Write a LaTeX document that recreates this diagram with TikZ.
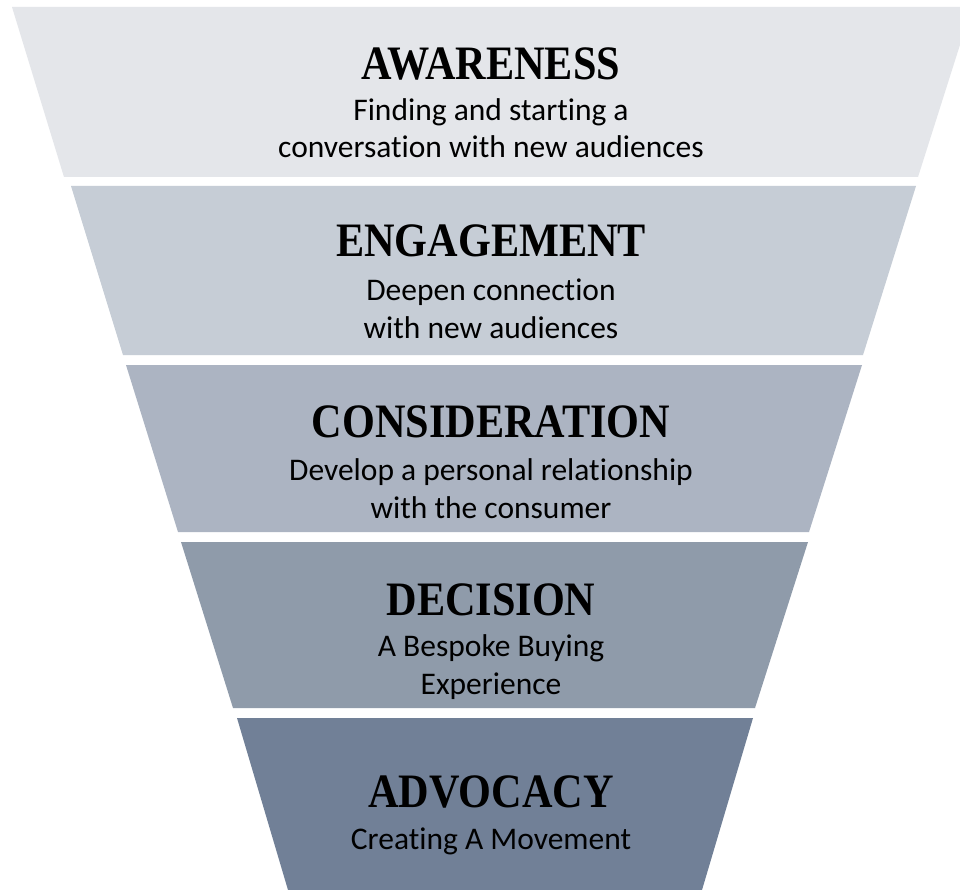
\documentclass[tikz,border=0pt]{standalone}
\usepackage{fontspec}
\setmainfont[Ligatures=NoCommon]{Carlito}
\newfontfamily\headfont[FakeStretch=0.88]{Liberation Serif}

\definecolor{bandA}{HTML}{E4E6EA}
\definecolor{bandB}{HTML}{C6CDD6}
\definecolor{bandC}{HTML}{ACB4C2}
\definecolor{bandD}{HTML}{8F9BAA}
\definecolor{bandE}{HTML}{718097}

\tikzset{
  stagetitle/.style={anchor=base, inner sep=0pt,
    font=\headfont\bfseries\fontsize{48}{48}\selectfont},
  stagetext/.style={anchor=base, inner sep=0pt, align=center,
    font=\fontsize{31.5}{37.5}\selectfont}
}

\begin{document}
\begin{tikzpicture}[x=1pt,y=-1pt]

% --- Area del disegno ---
\clip (0,0) rectangle (960,890);
\fill[white] (0,0) rectangle (960,890);

% --- Fasce dell'imbuto ---
\fill[bandA] (12,7) -- (972,7) -- (918,177) -- (64,177) -- cycle;
\fill[bandB] (71,186) -- (916,186) -- (863,355) -- (123,355) -- cycle;
\fill[bandC] (126,365) -- (862,365) -- (809,532) -- (178,532) -- cycle;
\fill[bandD] (181,542) -- (808,542) -- (755,708) -- (233,708) -- cycle;
\fill[bandE] (237,718) -- (753,718) -- (702,890) -- (288,890) -- cycle;

% --- Titoli ---
\node[stagetitle] (awareness) at (491,80) {AWARENESS};
\node[stagetitle] (engagement) at (491,257) {ENGAGEMENT};
\node[stagetitle] (consideration) at (491,437) {CONSIDERATION};
\node[stagetitle] (decision) at (491,615) {DECISION};
\node[stagetitle] (advocacy) at (491,807) {ADVOCACY};

% --- Descrizioni (ancorate alla base dell'ultima riga) ---
\node[stagetext] (awarenessText) at (491,158)
  {Finding and starting a\\conversation with new audiences};
\node[stagetext] (engagementText) at (491,338)
  {Deepen connection\\with new audiences};
\node[stagetext] (considerationText) at (491,518)
  {Develop a personal relationship\\with the consumer};
\node[stagetext] (decisionText) at (491,694)
  {A Bespoke Buying\\Experience};
\node[stagetext] (advocacyText) at (491,849) {Creating A Movement};

\end{tikzpicture}
\end{document}
